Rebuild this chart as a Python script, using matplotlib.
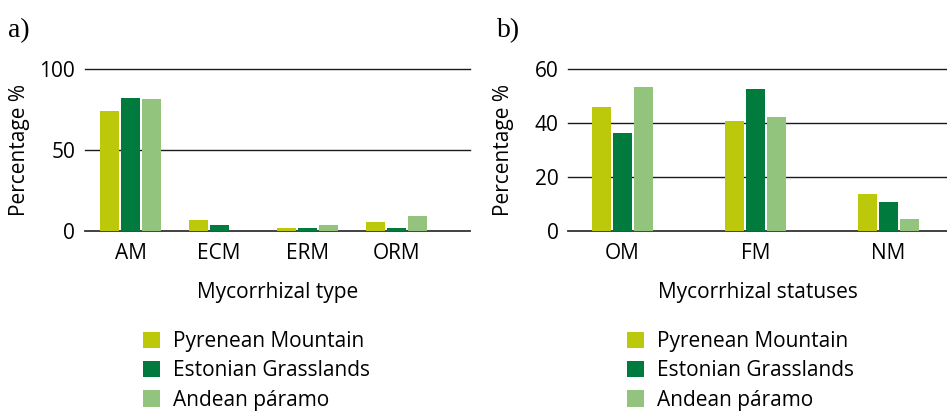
import matplotlib
matplotlib.use("Agg")
import matplotlib.pyplot as plt
from matplotlib.patches import Patch
import numpy as np

# ---- data ----
types = ["AM", "ECM", "ERM", "ORM"]
statuses = ["OM", "FM", "NM"]
series = ["Pyrenean Mountain", "Estonian Grasslands", "Andean páramo"]
pyrenean_type = [74.2, 6.6, 1.7, 5.4]
estonian_type = [82.2, 3.7, 1.7, 1.7]
andean_type = [81.6, 0.0, 3.7, 9.3]
pyrenean_status = [46.0, 40.8, 13.6]
estonian_status = [36.3, 52.7, 10.7]
andean_status = [53.4, 42.3, 4.4]
yticks_a = [0, 50, 100]
yticks_b = [0, 20, 40, 60]

colors = ["#BCC90A", "#007A3D", "#93C47D"]
FONT = "Open Sans"
plt.rcParams["font.family"] = [FONT, "DejaVu Sans"]
FS = 15

W, H = 947, 412
fig = plt.figure(figsize=(W / 100, H / 100), dpi=100)


def px_axes(l, r, top, bottom):
    return fig.add_axes([l / W, 1 - bottom / H, (r - l) / W, (bottom - top) / H])


def panel(ax, cats, vals, yticks, unit_px, xlim, xlabel):
    x = np.arange(len(cats))
    bw = 19 / unit_px
    step = 21 / unit_px
    for i, (v, c) in enumerate(zip(vals, colors)):
        ax.bar(x + (i - 1) * step, v, width=bw, color=c, linewidth=0, zorder=3)
    ax.set_xlim(*xlim)
    ax.set_ylim(yticks[0], yticks[-1])
    for t in yticks:
        ax.axhline(t, color="#1a1a1a" if t != 0 else "#333333",
                   lw=1.0 if t != 0 else 1.3, zorder=2, clip_on=False)
    for s in ax.spines.values():
        s.set_visible(False)
    ax.set_xticks(x)
    ax.set_xticklabels(cats, fontsize=FS)
    ax.set_yticks(yticks)
    ax.set_yticklabels([str(t) for t in yticks], fontsize=FS)
    ax.tick_params(axis="x", length=0, pad=8.5)
    ax.tick_params(axis="y", length=0, pad=7)
    ax.set_xlabel(xlabel, fontsize=FS, labelpad=13)


ax_a = px_axes(85, 470, 69.3, 230.7)
panel(ax_a, types, [pyrenean_type, estonian_type, andean_type], yticks_a,
      88.7, (-0.513, 3.83), "Mycorrhizal type")
ax_b = px_axes(568.3, 946.7, 69.3, 230.7)
panel(ax_b, statuses, [pyrenean_status, estonian_status, andean_status], yticks_b,
      133.0, (-0.4075, 2.4376), "Mycorrhizal statuses")

fig.text(19 / W, 1 - 150 / H, "Percentage %", rotation=90, ha="center", va="center", fontsize=FS)
fig.text(503 / W, 1 - 150 / H, "Percentage %", rotation=90, ha="center", va="center", fontsize=FS)

fig.text(8 / W, 1 - 31 / H, "a)", family="Liberation Serif", fontsize=20, ha="left", va="center")
fig.text(497 / W, 1 - 31 / H, "b)", family="Liberation Serif", fontsize=20, ha="left", va="center")

handles = [Patch(facecolor=c, edgecolor="none") for c in colors]
for lx in (143, 627):
    fig.legend(handles, series, loc="upper left",
               bbox_to_anchor=(lx / W, 1 - 331 / H), frameon=False, fontsize=FS,
               handlelength=0.82, handleheight=0.82, handletextpad=0.6,
               labelspacing=0.40, borderpad=0, borderaxespad=0)

fig.savefig("out.png", dpi=100)
